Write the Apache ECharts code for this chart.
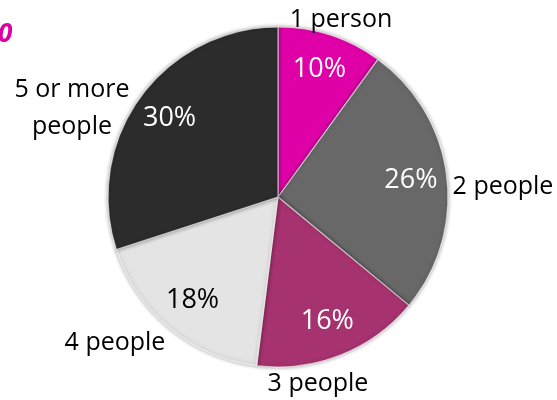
<!DOCTYPE html>
<html>
<head>
<meta charset="utf-8">
<script src="https://cdn.jsdelivr.net/npm/echarts@6/dist/echarts.min.js"></script>
<style>
  html, body { margin: 0; padding: 0; background: #ffffff; }
  #chart { width: 557px; height: 400px; }
</style>
</head>
<body>
<div id="chart"></div>
<script>
// Household size shares (percent)
const categories = ['1 person', '2 people', '3 people', '4 people', '5 or more\npeople'];
const shares = [10, 26, 16, 18, 30];

// Styling
const sliceColors = ['#e000a8', '#686868', '#a6336f', '#e4e4e4', '#2c2c2c'];
const pctColors = ['#ffffff', '#ffffff', '#ffffff', '#000000', '#ffffff'];
// Category label centres, as offsets from the pie centre
const nameOffsets = [[63, -177], [225, -10], [40, 187], [-163, 146], [-206, -89]];

const CX = 278, CY = 197, R = 170;
const FONT = '"Open Sans", "Noto Sans", sans-serif';

const chart = echarts.init(document.getElementById('chart'), null, { renderer: 'canvas' });

const baseData = categories.map((name, i) => ({
  name: name,
  value: shares[i],
  itemStyle: { color: sliceColors[i] }
}));

const pctData = categories.map((name, i) => ({
  name: name,
  value: shares[i],
  label: { color: pctColors[i] }
}));

chart.setOption({
  animation: false,
  graphic: [{
    type: 'text',
    left: -2,
    top: 22,
    style: {
      text: '0',
      fill: '#dc00a6',
      font: 'italic bold 26px ' + FONT
    }
  }],
  series: [
    {
      // filled slices with category labels around the rim
      type: 'pie',
      center: [CX, CY],
      radius: [0, R],
      startAngle: 90,
      clockwise: true,
      silent: true,
      data: baseData,
      itemStyle: {
        borderColor: 'rgba(255,255,255,0.6)',
        borderWidth: 1.2,
        shadowBlur: 4,
        shadowColor: 'rgba(0,0,0,0.4)'
      },
      label: {
        show: true,
        position: 'outside',
        alignTo: 'none',
        edgeDistance: 0,
        bleedMargin: 0,
        overflow: 'none',
        formatter: '{b}',
        color: '#000000',
        fontFamily: FONT,
        fontSize: 25,
        lineHeight: 37,
        align: 'center'
      },
      labelLine: { show: false },
      labelLayout: function (p) {
        const o = nameOffsets[p.dataIndex];
        return {
          x: CX + o[0],
          y: CY + o[1],
          align: 'center',
          verticalAlign: 'middle',
          hideOverlap: false,
          moveOverlap: false
        };
      }
    },
    {
      // transparent ring that carries the percentage labels
      type: 'pie',
      center: [CX, CY],
      radius: [92, R],
      startAngle: 90,
      clockwise: true,
      silent: true,
      z: 3,
      data: pctData,
      itemStyle: { color: 'rgba(0,0,0,0)', borderWidth: 0 },
      label: {
        show: true,
        position: 'inside',
        formatter: '{c}%',
        fontFamily: FONT,
        fontSize: 27
      },
      labelLine: { show: false }
    }
  ]
});
</script>
</body>
</html>
